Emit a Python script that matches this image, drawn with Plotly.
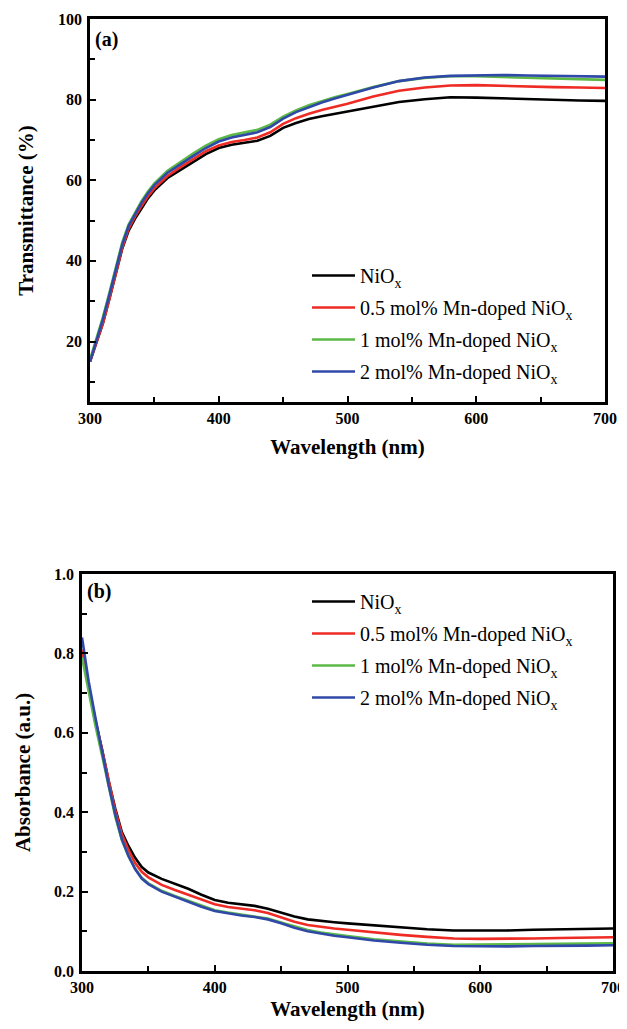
import plotly.graph_objects as go

# ---------------- data ----------------
wavelength = [300, 305, 310, 315, 320, 325, 330, 335, 340, 345, 350, 360, 370, 380, 390,
              400, 410, 420, 430, 440, 450, 460, 470, 480, 490, 500, 520, 540, 560, 580,
              600, 620, 640, 660, 680, 700]

series_names = ["NiO<sub>x</sub>",
                "0.5 mol% Mn-doped NiO<sub>x</sub>",
                "1 mol% Mn-doped NiO<sub>x</sub>",
                "2 mol% Mn-doped NiO<sub>x</sub>"]

# (a) transmittance (%)
T_nio = [15.0, 19.5, 24.5, 30.5, 37.0, 43.0, 47.5, 50.5, 53.0, 55.5, 57.5, 60.5, 62.5, 64.5, 66.5,
         68.0, 68.8, 69.3, 69.8, 71.0, 73.0, 74.2, 75.2, 75.9, 76.5, 77.0, 78.3, 79.4, 80.1, 80.6,
         80.5, 80.3, 80.1, 79.9, 79.8, 79.7]
T_05 = [15.0, 19.5, 24.5, 30.5, 37.0, 43.2, 48.0, 51.0, 53.6, 56.0, 58.0, 61.0, 63.2, 65.2, 67.2,
        68.6, 69.5, 70.0, 70.6, 71.9, 74.0, 75.4, 76.5, 77.4, 78.2, 79.0, 80.8, 82.2, 83.0, 83.5,
        83.6, 83.4, 83.2, 83.1, 83.0, 82.9]
T_1 = [15.5, 20.5, 26.0, 32.0, 38.5, 44.5, 49.0, 52.0, 54.8, 57.2, 59.2, 62.3, 64.5, 66.6, 68.6,
       70.2, 71.2, 71.8, 72.5, 73.8, 75.8, 77.3, 78.6, 79.6, 80.6, 81.4, 83.1, 84.6, 85.4, 85.8,
       85.8, 85.6, 85.4, 85.3, 85.1, 84.9]
T_2 = [15.0, 20.0, 25.5, 31.5, 38.0, 44.0, 48.7, 51.7, 54.4, 56.8, 58.8, 61.8, 64.0, 66.0, 68.0,
       69.6, 70.6, 71.2, 71.9, 73.2, 75.3, 76.9, 78.2, 79.3, 80.3, 81.2, 83.0, 84.6, 85.5, 85.9,
       86.0, 86.1, 86.0, 85.9, 85.8, 85.7]

# (b) absorbance (a.u.)
A_nio = [0.80, 0.71, 0.63, 0.56, 0.48, 0.41, 0.35, 0.315, 0.285, 0.262, 0.248, 0.232, 0.220, 0.207, 0.192,
         0.179, 0.172, 0.168, 0.164, 0.157, 0.147, 0.137, 0.130, 0.126, 0.123, 0.120, 0.115, 0.110, 0.105, 0.102,
         0.102, 0.102, 0.104, 0.105, 0.106, 0.107]
A_05 = [0.81, 0.715, 0.635, 0.56, 0.48, 0.405, 0.345, 0.305, 0.272, 0.250, 0.236, 0.217, 0.204, 0.192, 0.179,
        0.168, 0.161, 0.157, 0.153, 0.146, 0.135, 0.124, 0.116, 0.111, 0.107, 0.104, 0.097, 0.091, 0.086, 0.082,
        0.081, 0.081, 0.082, 0.083, 0.084, 0.085]
A_1 = [0.79, 0.70, 0.62, 0.545, 0.465, 0.39, 0.33, 0.29, 0.258, 0.235, 0.221, 0.202, 0.189, 0.177, 0.164,
       0.153, 0.147, 0.142, 0.138, 0.132, 0.122, 0.112, 0.103, 0.097, 0.092, 0.088, 0.080, 0.074, 0.069, 0.066,
       0.066, 0.067, 0.068, 0.068, 0.069, 0.070]
A_2 = [0.84, 0.73, 0.64, 0.555, 0.47, 0.395, 0.332, 0.29, 0.257, 0.233, 0.219, 0.200, 0.187, 0.175, 0.162,
       0.151, 0.145, 0.140, 0.136, 0.130, 0.120, 0.109, 0.100, 0.094, 0.089, 0.085, 0.077, 0.071, 0.066, 0.063,
       0.062, 0.062, 0.063, 0.063, 0.064, 0.065]

x_ticks = [300, 400, 500, 600, 700]
T_ticks = [20, 40, 60, 80, 100]
A_ticks = [0.0, 0.2, 0.4, 0.6, 0.8, 1.0]

# ---------------- style ----------------
colors = ["#000000", "#ee2b24", "#5cb946", "#3048a8"]
FONT = "Liberation Serif, Times New Roman, serif"

fig = go.Figure()

trans = [T_nio, T_05, T_1, T_2]
absb = [A_nio, A_05, A_1, A_2]
for i in range(4):
    fig.add_trace(go.Scatter(x=wavelength, y=trans[i], mode="lines", name=series_names[i],
                             line=dict(color=colors[i], width=2.6), xaxis="x", yaxis="y",
                             legend="legend", legendgroup="a%d" % i))
for i in range(4):
    fig.add_trace(go.Scatter(x=wavelength, y=absb[i], mode="lines", name=series_names[i],
                             line=dict(color=colors[i], width=2.6), xaxis="x2", yaxis="y2",
                             legend="legend2", legendgroup="b%d" % i))

tickfont = dict(family=FONT, size=16, color="black", weight="bold")
titlefont = dict(family=FONT, size=21, color="black", weight="bold")

def xax(domain, anchor, title, standoff):
    return dict(domain=domain, anchor=anchor, range=[300, 700], tickvals=x_ticks,
                automargin=False, ticklabeloverflow="allow",
                ticks="inside", ticklen=6, tickwidth=2, tickcolor="black",
                minor=dict(dtick=50, ticks="inside", ticklen=5, tickwidth=2, tickcolor="black", showgrid=False),
                showline=True, linewidth=2.5, linecolor="black", mirror=True,
                showgrid=False, zeroline=False, tickfont=tickfont,
                title=dict(text=title, font=titlefont, standoff=standoff))

def yax(domain, anchor, rng, tickvals, minor_dtick, title, fmt, standoff):
    return dict(domain=domain, anchor=anchor, range=rng, tickvals=tickvals,
                automargin=False,
                ticks="inside", ticklen=6, tickwidth=2, tickcolor="black",
                minor=dict(dtick=minor_dtick, tick0=0, ticks="inside", ticklen=5, tickwidth=2,
                           tickcolor="black", showgrid=False),
                showline=True, linewidth=2.5, linecolor="black", mirror=True,
                showgrid=False, zeroline=False, tickfont=tickfont, tickformat=fmt,
                ticklabelstandoff=2,
                title=dict(text=title, font=titlefont, standoff=standoff))

# the page body keeps an 8px margin, so the figure occupies 611x1013 starting at (8, 8)
W, H = 611, 1013
OFF = 8

def fx(px):
    return (px - OFF) / W

def fy(py):
    return 1 - (py - OFF) / H

fig.update_layout(
    width=W, height=H, autosize=False,
    margin=dict(l=0, r=0, t=0, b=0, autoexpand=False),
    paper_bgcolor="white", plot_bgcolor="white",
    font=dict(family=FONT, color="black"),
    xaxis=xax([fx(90), fx(605)], "y", "Wavelength (nm)", 14),
    yaxis=yax([fy(402), fy(19)], "x", [5, 100], T_ticks, 10, "Transmittance (%)", "", 19),
    xaxis2=xax([fx(82), fx(613)], "y2", "Wavelength (nm)", 18),
    yaxis2=yax([fy(971), fy(574)], "x2", [0, 1.0], A_ticks, 0.1, "Absorbance (a.u.)", ".1f", 18),
    legend=dict(x=fx(307), y=fy(256), xanchor="left", yanchor="top",
                bgcolor="rgba(0,0,0,0)", font=dict(family=FONT, size=20, color="black"),
                tracegroupgap=3, itemwidth=43),
    legend2=dict(x=fx(307), y=fy(582), xanchor="left", yanchor="top",
                 bgcolor="rgba(0,0,0,0)", font=dict(family=FONT, size=20, color="black"),
                 tracegroupgap=3, itemwidth=43),
    annotations=[
        dict(text="(a)", xref="x domain", yref="y domain", x=0.006, y=0.983,
             xanchor="left", yanchor="top", showarrow=False,
             font=dict(family=FONT, size=20, color="black", weight="bold")),
        dict(text="(b)", xref="x2 domain", yref="y2 domain", x=0.006, y=0.99,
             xanchor="left", yanchor="top", showarrow=False,
             font=dict(family=FONT, size=20, color="black", weight="bold")),
    ],
    showlegend=True,
)

fig.write_html("out.html", config={"displayModeBar": False})
